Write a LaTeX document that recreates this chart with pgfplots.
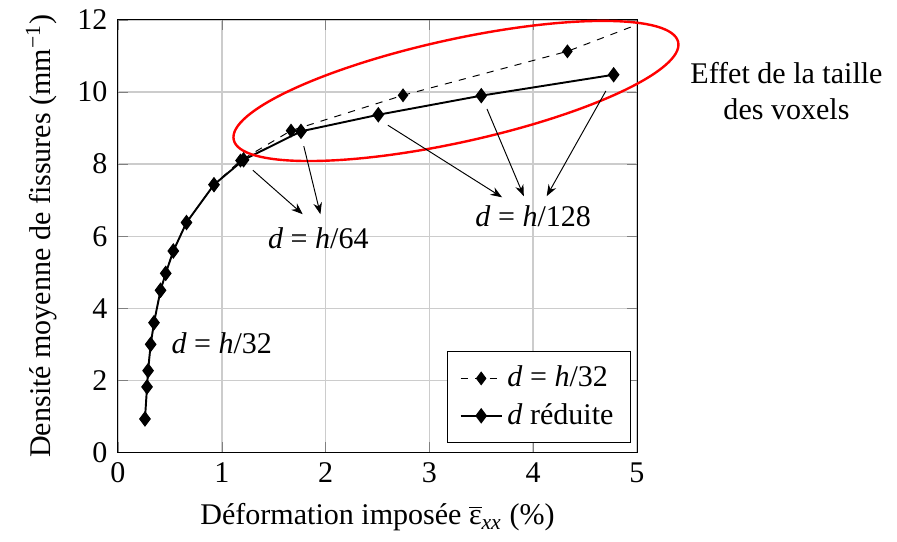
\documentclass[border=0pt]{standalone}
\usepackage{fontspec}
\setmainfont{Liberation Serif}
\usepackage{pgfplots}
\pgfplotsset{compat=1.18}
\usetikzlibrary{arrows.meta}
\newcommand{\dd}{\textit{d}}
\newcommand{\hh}{\textit{h}}
\newcommand{\fs}{\fontsize{12.5}{15}\selectfont}
\begin{document}
\fs
\begin{tikzpicture}
\begin{axis}[
  scale only axis,
  width=216pt, height=180pt,
  xmin=0, xmax=5, ymin=0, ymax=12,
  xtick={0,1,2,3,4,5}, ytick={0,2,4,6,8,10,12},
  /pgf/number format/assume math mode=true,
  tick label style={font=\fs},
  label style={font=\fs},
  grid=major,
  major grid style={gray!40, line width=0.6pt},
  clip mode=individual,
  xlabel={Déformation imposée $\overline{\mbox{ε}}_{\mbox{\small\itshape xx}}$ (\%)},
  ylabel={Densité moyenne de fissures (mm$^{\mbox{\small −1}}$)},
  legend style={at={(0.988,0.021)}, anchor=south east, cells={anchor=west}, font=\fs, inner xsep=5pt, inner ysep=4pt, row sep=1pt},
  legend cell align=left,
]
\addplot[black, thin, dashed, mark=diamond*, mark size=2.6pt, mark options={solid}] coordinates {
(0.26,0.93) (0.28,1.82) (0.29,2.27) (0.315,3.0) (0.347,3.6) (0.41,4.5) (0.46,4.97)
(0.533,5.59) (0.66,6.38) (0.925,7.43) (1.18,8.1) (1.667,8.93) (2.746,9.91) (4.33,11.13) (5.6,12.53)
};
\addlegendentry{\dd{} = \hh/32}
\addplot[black, line width=0.8pt, mark=diamond*, mark size=2.6pt] coordinates {
(0.26,0.93) (0.28,1.82) (0.29,2.27) (0.315,3.0) (0.347,3.6) (0.41,4.5) (0.46,4.97)
(0.533,5.59) (0.66,6.38) (0.925,7.43) (1.21,8.12) (1.763,8.91) (2.508,9.37) (3.50,9.90) (4.775,10.48)
};
\addlegendentry{\dd{} réduite}
\draw[red, line width=1pt, rotate around={12.4:(axis cs:3.256,10.03)}] (axis cs:3.256,10.03) ellipse [x radius=94.7pt, y radius=21.4pt];
\node[font=\fs] at (axis cs:1.0,3.03) {\dd{} = \hh/32};
\node[font=\fs] at (axis cs:1.93,5.94) {\dd{} = \hh/64};
\node[font=\fs] at (axis cs:4.0,6.56) {\dd{} = \hh/128};
\node[align=center, font=\fs] at (axis cs:6.44,10.03) {Effet de la taille\\des voxels};
\draw[-Stealth, thin] (axis cs:1.30,7.83) -- (axis cs:1.78,6.61);
\draw[-Stealth, thin] (axis cs:1.79,8.50) -- (axis cs:1.95,6.61);
\draw[-Stealth, thin] (axis cs:2.60,9.08) -- (axis cs:3.70,7.08);
\draw[-Stealth, thin] (axis cs:3.555,9.53) -- (axis cs:3.91,7.11);
\draw[-Stealth, thin] (axis cs:4.70,10.03) -- (axis cs:4.13,7.11);
\end{axis}
\path[use as bounding box] (-49.1pt,-32.9pt) rectangle (324.2pt,185.2pt);
\end{tikzpicture}
\end{document}
